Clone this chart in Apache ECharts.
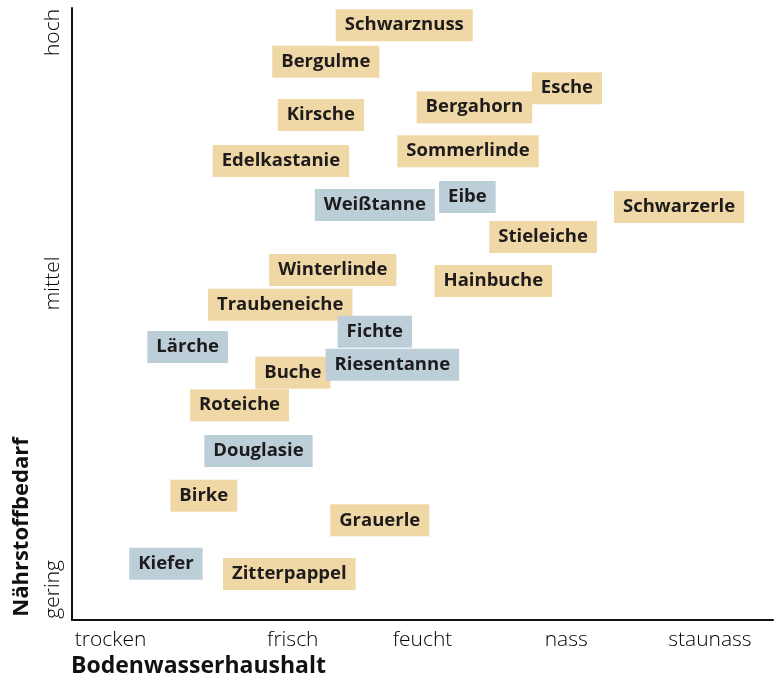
<!DOCTYPE html>
<html>
<head>
<meta charset="utf-8">
<script src="https://cdn.jsdelivr.net/npm/echarts@6/dist/echarts.min.js"></script>
<style>
  html, body { margin: 0; padding: 0; background: #fff; }
  #chart { width: 776px; height: 683px; }
</style>
</head>
<body>
<div id="chart"></div>
<script>
// Laubbaeume (beige)
var laubNames = ['Schwarznuss', 'Bergulme', 'Esche', 'Bergahorn', 'Kirsche', 'Sommerlinde',
  'Edelkastanie', 'Schwarzerle', 'Stieleiche', 'Winterlinde', 'Hainbuche', 'Traubeneiche',
  'Buche', 'Roteiche', 'Birke', 'Grauerle', 'Zitterpappel'];
var laubX = [47.4, 36.2, 70.6, 57.4, 35.5, 56.5, 29.8, 86.6, 67.2, 37.2, 60.1, 29.7, 31.5, 23.9, 18.8, 43.9, 31.0];
var laubY = [97.2, 91.2, 86.9, 83.8, 82.5, 76.6, 75.0, 67.5, 62.6, 57.2, 55.4, 51.5, 40.4, 35.1, 20.3, 16.3, 7.5];

// Nadelbaeume (blau)
var nadelNames = ['Weißtanne', 'Eibe', 'Fichte', 'Lärche', 'Riesentanne', 'Douglasie', 'Kiefer'];
var nadelX = [43.2, 56.4, 43.2, 16.5, 45.7, 26.6, 13.4];
var nadelY = [67.8, 69.1, 47.1, 44.6, 41.7, 27.6, 9.2];

// Achsenbeschriftungen
var xTicks = { 5.5: 'trocken', 31.5: 'frisch', 50: 'feucht', 70.5: 'nass', 91: 'staunass' };
var yTicks = { 5: 'gering', 55: 'mittel', 96: 'hoch' };

function toPoints(names, xs, ys) {
  var res = [];
  for (var i = 0; i < names.length; i++) {
    res.push({ name: names[i], value: [xs[i], ys[i]] });
  }
  return res;
}

function boxLabel(bg) {
  return {
    show: true,
    position: 'inside',
    formatter: '{b}',
    fontFamily: 'Open Sans',
    fontWeight: 'bold',
    fontSize: 18.5,
    lineHeight: 20,
    color: '#1e1b1c',
    opacity: 1,
    backgroundColor: bg,
    padding: [7, 9, 5, 9]
  };
}

var myChart = echarts.init(document.getElementById('chart'));

var option = {
  animation: false,
  grid: { left: 72, right: 0, top: 8, bottom: 63 },
  xAxis: {
    type: 'value',
    min: 0,
    max: 100,
    interval: 0.5,
    axisLine: { show: true, lineStyle: { color: '#111', width: 2 } },
    axisTick: { show: false },
    splitLine: { show: false },
    axisLabel: {
      margin: 10,
      fontFamily: 'Open Sans',
      fontWeight: 300,
      fontSize: 21,
      color: '#000',
      formatter: function (v) { return xTicks[v] || ''; }
    }
  },
  yAxis: {
    type: 'value',
    min: 0,
    max: 100,
    interval: 0.5,
    axisLine: { show: true, lineStyle: { color: '#111', width: 2 } },
    axisTick: { show: false },
    splitLine: { show: false },
    axisLabel: {
      rotate: 90,
      margin: 8,
      fontFamily: 'Open Sans',
      fontWeight: 300,
      fontSize: 21,
      color: '#000',
      formatter: function (v) { return yTicks[v] || ''; }
    }
  },
  graphic: [
    {
      type: 'text',
      left: 71,
      top: 655,
      style: {
        text: 'Bodenwasserhaushalt',
        font: 'bold 23px "Open Sans"',
        fill: '#111'
      }
    },
    {
      type: 'text',
      x: 22,
      y: 527,
      rotation: Math.PI / 2,
      style: {
        text: 'Nährstoffbedarf',
        font: 'bold 22px "Open Sans"',
        fill: '#111',
        align: 'center',
        verticalAlign: 'middle'
      }
    }
  ],
  series: [
    {
      name: 'Laubbäume',
      type: 'scatter',
      silent: true,
      symbolSize: 0,
      itemStyle: { color: '#f0d8a6', opacity: 1 },
      label: boxLabel('#f0d8a6'),
      data: toPoints(laubNames, laubX, laubY)
    },
    {
      name: 'Nadelbäume',
      type: 'scatter',
      silent: true,
      symbolSize: 0,
      itemStyle: { color: '#bccfd9', opacity: 1 },
      label: boxLabel('#bccfd9'),
      data: toPoints(nadelNames, nadelX, nadelY)
    }
  ]
};

myChart.setOption(option);
</script>
</body>
</html>
